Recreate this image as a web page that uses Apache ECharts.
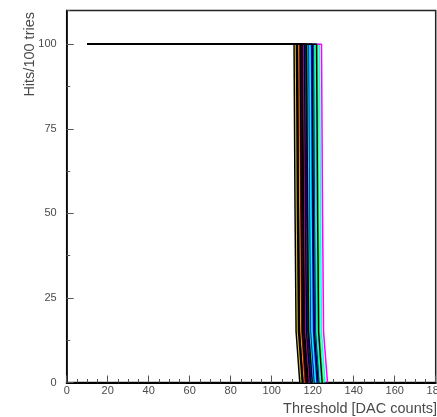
<!DOCTYPE html>
<html>
<head>
<meta charset="utf-8">
<script src="https://cdn.jsdelivr.net/npm/echarts@6/dist/echarts.min.js"></script>
<style>
html,body{margin:0;padding:0;background:#fff;}
#c{width:437px;height:417px;}
</style>
</head>
<body>
<div id="c"></div>
<script>
// Plateau start (x at 100 hits)
const startX = 10;
// Per-curve x positions:
// end of plateau (100), midpoint (50), start of tail (15), reaching zero (0)
const plateauEnd = [110.9,111.7,112.1,112.5,112.9,113.3,113.7,114.0,114.3,114.7,115.0,115.3,115.6,116.0,116.6,117.0,117.4,117.8,118.2,118.6,119.0,119.4,119.8,120.2,120.6,121.0,121.4,121.9,122.5,123.3,124.3];
const midPoint   = [111.4,112.2,112.6,113.0,113.4,113.8,114.2,114.5,114.8,115.2,115.5,115.8,116.1,116.5,117.1,117.5,117.9,118.3,118.7,119.1,119.5,119.9,120.3,120.7,121.1,121.5,121.9,122.4,123.0,123.8,124.8];
const tailStart  = [111.9,112.7,113.1,113.5,113.9,114.3,114.7,115.0,115.3,115.7,116.0,116.3,116.6,117.0,117.6,118.0,118.4,118.8,119.2,119.6,120.0,120.4,120.8,121.2,121.6,122.0,122.4,122.9,123.5,124.3,125.3];
const zeroPoint  = [113.7,114.3,114.9,115.2,115.6,116.0,116.3,116.8,117.0,117.4,117.8,118.0,118.3,118.8,119.2,119.8,120.1,120.5,120.8,121.4,121.7,122.1,122.6,122.8,123.3,123.7,124.1,124.6,125.2,126.0,127.2];
const curveColors = ['#000000','#e6c200','#000000','#000000','#1a1a80','#e6c200','#cc0000','#000000','#a000a0','#000000','#000000','#e6c200','#ff00ff','#000000','#0000ff','#000000','#00e5e5','#33dd33','#0000ff','#00e5e5','#00ffff','#0000ff','#000000','#00e5e5','#0000ff','#33ee33','#00ffff','#000000','#44ff44','#00ffff','#ff00ff'];
const levels = [100, 100, 50, 15, 0];
// Axis ticks
const xTicks = [0,20,40,60,80,100,120,140,160,180];
const yTicks = [0,25,50,75,100];

const font = 'Liberation Sans, Arial, sans-serif';
const txt = '#4a4a4a';

const series = [];
const order = plateauEnd.map((_, i) => i);
// draw black curves last so the plateau shows black
order.sort((a, b) => (curveColors[a] === '#000000') - (curveColors[b] === '#000000'));
order.forEach(i => {
  const xs = [startX, plateauEnd[i], midPoint[i], tailStart[i], zeroPoint[i]];
  series.push({
    type: 'line',
    data: xs.map((x, k) => [x, levels[k]]),
    showSymbol: false,
    symbol: 'none',
    silent: true,
    animation: false,
    lineStyle: {color: curveColors[i], width: 1.5},
    xAxisIndex: 0, yAxisIndex: 0
  });
});

const chart = echarts.init(document.getElementById('c'));
chart.setOption({
  animation: false,
  backgroundColor: '#fff',
  grid: {left: 66.7, right: 1.3, top: 10.5, bottom: 34.5, outerBoundsMode: 'none', containLabel: false,
    show: true, borderColor: '#222', borderWidth: 1.5, backgroundColor: 'transparent'},
  xAxis: [{
    type: 'value', min: xTicks[0], max: xTicks[xTicks.length-1], interval: 20,
    axisLine: {show: true, lineStyle: {color: '#000', width: 2}},
    axisTick: {show: true, inside: true, length: 7, lineStyle: {color: '#555', width: 1}},
    minorTick: {show: true, splitNumber: 4, length: 3.5, lineStyle: {color: '#555', width: 1}},
    splitLine: {show: false},
    axisLabel: {color: txt, fontSize: 11, fontFamily: font, margin: 3, showMaxLabel: true, hideOverlap: false}
  }],
  yAxis: [{
    type: 'value', min: 0, max: 110, interval: 25,
    position: 'left',
    axisLine: {show: true, lineStyle: {color: '#000', width: 1.5}},
    axisTick: {show: true, inside: true, length: 7, lineStyle: {color: '#555', width: 1}},
    splitLine: {show: false},
    axisLabel: {color: txt, fontSize: 11, fontFamily: font, margin: 10, showMaxLabel: false,
      formatter: v => yTicks.indexOf(v) >= 0 ? String(v) : ''}
  }, {
    type: 'value', min: 0, max: 110, interval: 12.5,
    position: 'left', offset: 0,
    axisLine: {show: false},
    axisTick: {show: true, inside: true, length: 3.5, lineStyle: {color: '#555', width: 1}},
    splitLine: {show: false},
    axisLabel: {show: false}
  }],
  graphic: [{
    type: 'text', right: 0, bottom: 1,
    style: {text: 'Threshold [DAC counts]', fill: txt, font: '14.5px ' + font}
  }, {
    type: 'text', x: 30, y: 12, rotation: Math.PI / 2,
    style: {text: 'Hits/100 tries', fill: txt, font: '14.5px ' + font, align: 'right', verticalAlign: 'middle'}
  }],
  series: series
});
</script>
</body>
</html>
